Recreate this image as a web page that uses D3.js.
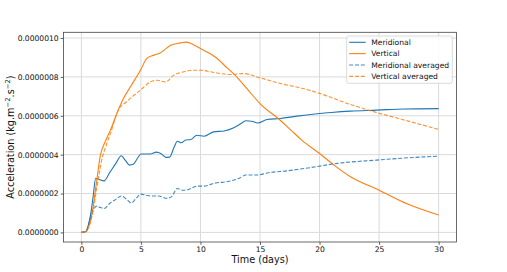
<!DOCTYPE html>
<html>
<head>
<meta charset="utf-8">
<script src="https://cdn.jsdelivr.net/npm/d3@7"></script>
<style>
  body { margin: 0; background: #fff; }
  svg { font-family: "DejaVu Sans", sans-serif; }
</style>
</head>
<body>
<div id="chart"></div>
<script>
///// DATA (values in units of 1e-7) /////
var UNIT = 1e-7;

var meridionalT = [0, 0.4, 0.5, 0.8, 1.0, 1.2, 1.5, 1.9, 2.4, 2.9, 3.35, 3.7, 4.05, 4.35, 4.7, 5.0, 5.4, 5.8, 6.3, 6.7, 7.1, 7.4, 7.8, 8.05, 8.4, 8.75, 9.2, 9.7, 10.3, 11.1, 12.0, 12.8, 13.4, 13.8, 14.3, 14.8, 15.6, 16.7, 18.1, 19.8, 21.0, 22.6, 24.8, 27.1, 30];
var meridionalV = [0, 0.05, 0.2, 1.0, 1.9, 2.78, 2.72, 2.65, 3.1, 3.55, 3.94, 3.7, 3.46, 3.5, 3.8, 4.03, 4.03, 4.03, 4.13, 4.05, 3.86, 3.87, 4.4, 4.69, 4.61, 4.75, 4.78, 5.0, 4.95, 5.17, 5.22, 5.38, 5.6, 5.74, 5.72, 5.63, 5.81, 5.86, 5.98, 6.1, 6.17, 6.24, 6.29, 6.35, 6.37];

var verticalT = [0, 0.3, 0.5, 0.9, 1.26, 1.6, 2.0, 2.44, 3.0, 3.5, 4.12, 4.96, 5.5, 6.1, 6.6, 7.0, 7.5, 8.3, 8.8, 9.2, 10.0, 10.8, 11.3, 12.0, 12.9, 13.9, 15.0, 16.7, 17.6, 18.5, 20.0, 21.3, 22.6, 25.0, 27.4, 30];
var verticalV = [0, 0.02, 0.15, 0.98, 2.52, 3.97, 4.66, 5.26, 6.15, 6.85, 7.49, 8.34, 8.95, 9.12, 9.23, 9.4, 9.63, 9.75, 9.79, 9.72, 9.46, 9.2, 9.0, 8.6, 8.09, 7.40, 6.63, 5.77, 5.26, 4.75, 4.06, 3.42, 2.86, 2.17, 1.46, 0.89];

var meridionalAvgT = [0, 0.4, 0.7, 1.0, 1.3, 1.6, 1.9, 2.4, 2.9, 3.35, 3.8, 4.2, 4.6, 5.0, 5.5, 5.9, 6.5, 7.2, 7.6, 8.05, 8.5, 9.0, 9.7, 10.3, 11.1, 12.5, 13.3, 13.8, 14.8, 15.6, 17.3, 19.3, 21.5, 24.8, 27.5, 30];
var meridionalAvgV = [0, 0.05, 0.6, 1.15, 1.35, 1.28, 1.23, 1.5, 1.7, 1.87, 1.7, 1.52, 1.75, 1.97, 1.9, 1.87, 1.87, 1.75, 1.85, 2.26, 2.17, 2.21, 2.38, 2.38, 2.52, 2.64, 2.8, 2.95, 2.95, 3.06, 3.17, 3.34, 3.55, 3.72, 3.84, 3.92];

var verticalAvgT = [0, 0.3, 0.5, 0.9, 1.3, 1.7, 2.1, 2.5, 3.1, 3.8, 4.96, 5.8, 6.36, 7.06, 7.76, 8.6, 9.3, 10.0, 11.1, 12.5, 13.6, 15.0, 16.7, 18.5, 20.1, 22.5, 24.6, 27.0, 30];
var verticalAvgV = [0, 0.02, 0.12, 0.85, 2.3, 3.7, 4.5, 5.2, 6.29, 6.72, 7.32, 7.74, 7.83, 7.74, 8.09, 8.26, 8.34, 8.34, 8.23, 8.12, 8.17, 7.95, 7.66, 7.42, 7.13, 6.6, 6.2, 5.8, 5.3];

var xTicks = [0, 5, 10, 15, 20, 25, 30];
var yTicks = [0, 2e-7, 4e-7, 6e-7, 8e-7, 1e-6];

var seriesNames = ["Meridional", "Vertical", "Meridional averaged", "Vertical averaged"];
var seriesT = [meridionalT, verticalT, meridionalAvgT, verticalAvgT];
var seriesV = [meridionalV, verticalV, meridionalAvgV, verticalAvgV];
var colors = ["#1f77b4", "#ff7f0e", "#1f77b4", "#ff7f0e"];
var dashed = [false, false, true, true];

///// DIMENSIONS /////
var W = 507, H = 272;
var plot = { left: 63.5, right: 456.5, top: 32.3, bottom: 242 };

var xScale = d3.scaleLinear().domain([-1.5, 31.5]).range([plot.left, plot.right]);
var yScale = d3.scaleLinear().domain([-0.0494e-6, 1.0294e-6]).range([plot.bottom, plot.top]);

var svg = d3.select("#chart").append("svg")
  .attr("width", W).attr("height", H);

///// GRID /////
var grid = svg.append("g");
grid.selectAll(".gx").data(xTicks).enter().append("line")
  .attr("x1", d => xScale(d)).attr("x2", d => xScale(d))
  .attr("y1", plot.top).attr("y2", plot.bottom)
  .attr("stroke", "#dadada").attr("stroke-width", 1);
grid.selectAll(".gy").data(yTicks).enter().append("line")
  .attr("y1", d => yScale(d)).attr("y2", d => yScale(d))
  .attr("x1", plot.left).attr("x2", plot.right)
  .attr("stroke", "#dadada").attr("stroke-width", 1);

///// LINES /////
var line = d3.line()
  .x(d => xScale(d[0]))
  .y(d => yScale(d[1] * UNIT))
  .curve(d3.curveMonotoneX);

seriesNames.forEach(function(name, i) {
  var pts = seriesT[i].map((t, j) => [t, seriesV[i][j]]);
  svg.append("path")
    .datum(pts)
    .attr("d", line)
    .attr("fill", "none")
    .attr("stroke", colors[i])
    .attr("stroke-width", 1.1)
    .attr("stroke-opacity", dashed[i] ? 0.85 : 1)
    .attr("stroke-dasharray", dashed[i] ? "4,1.8" : null);
});

///// AXES /////
var xAxis = svg.append("g")
  .attr("transform", `translate(0,${plot.bottom})`)
  .call(d3.axisBottom(xScale).tickValues(xTicks).tickSize(2.8).tickPadding(2).tickFormat(d3.format("d")));
var yAxis = svg.append("g")
  .attr("transform", `translate(${plot.left},0)`)
  .call(d3.axisLeft(yScale).tickValues(yTicks).tickSize(2.8).tickPadding(2).tickFormat(d3.format(".7f")));

[xAxis, yAxis].forEach(function(a) {
  a.select(".domain").remove();
  a.selectAll("line").attr("stroke", "#333").attr("stroke-width", 0.8);
  a.selectAll("text").attr("font-size", 7.6).attr("fill", "#111")
    .attr("font-family", "DejaVu Sans");
});

// spines
svg.append("rect")
  .attr("x", plot.left).attr("y", plot.top)
  .attr("width", plot.right - plot.left).attr("height", plot.bottom - plot.top)
  .attr("fill", "none").attr("stroke", "#444").attr("stroke-width", 0.8);

///// LABELS /////
svg.append("text")
  .attr("x", (plot.left + plot.right) / 2).attr("y", 263)
  .attr("text-anchor", "middle").attr("font-size", 9.7).attr("fill", "#111")
  .text("Time (days)");

var yl = svg.append("text")
  .attr("transform", `translate(13.5,${(plot.top + plot.bottom) / 2}) rotate(-90)`)
  .attr("text-anchor", "middle").attr("font-size", 9.7).attr("fill", "#111");
yl.append("tspan").text("Acceleration (kg.m");
yl.append("tspan").attr("dy", -3.5).attr("font-size", 6.8).text("\u22122");
yl.append("tspan").attr("dy", 3.5).text(".s");
yl.append("tspan").attr("dy", -3.5).attr("font-size", 6.8).text("\u22122");
yl.append("tspan").attr("dy", 3.5).text(")");

///// LEGEND /////
var lg = svg.append("g").attr("transform", "translate(346.7,36)");
lg.append("rect")
  .attr("width", 105.6).attr("height", 47.3).attr("rx", 2)
  .attr("fill", "#fff").attr("fill-opacity", 0.8)
  .attr("stroke", "#d0d0d0").attr("stroke-width", 0.8);

var rows = lg.selectAll(".legend").data(seriesNames).enter().append("g")
  .attr("transform", (d, i) => `translate(0,${6.3 + i * 11.35})`);
rows.append("line")
  .attr("x1", 2.5).attr("x2", 19)
  .attr("stroke", (d, i) => colors[i])
  .attr("stroke-width", 1.1)
  .attr("stroke-opacity", (d, i) => dashed[i] ? 0.85 : 1)
  .attr("stroke-dasharray", (d, i) => dashed[i] ? "4,1.8" : null);
rows.append("text")
  .attr("x", 24.5).attr("y", 2.7)
  .attr("font-size", 7.6).attr("fill", "#111")
  .text(d => d);
</script>
</body>
</html>
